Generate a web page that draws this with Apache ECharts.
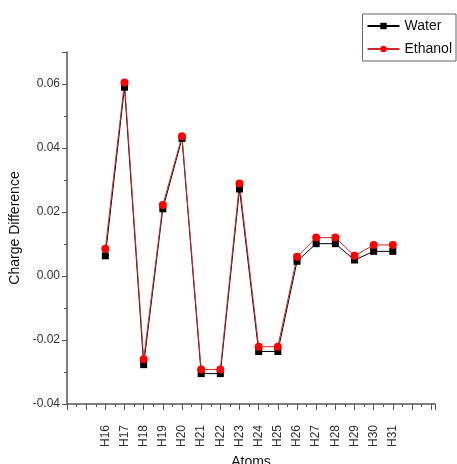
<!DOCTYPE html>
<html>
<head>
<meta charset="utf-8">
<script src="https://cdn.jsdelivr.net/npm/echarts@6/dist/echarts.min.js"></script>
<style>
  html, body { margin: 0; padding: 0; background: #fff; }
  #chart { width: 457px; height: 464px; }
</style>
</head>
<body>
<div id="chart"></div>
<script>
// atoms along the x axis
const categories = ['H16','H17','H18','H19','H20','H21','H22','H23','H24','H25','H26','H27','H28','H29','H30','H31'];
// charge difference
const water   = [0.0063, 0.0590, -0.0277, 0.0210, 0.0430, -0.0305, -0.0305, 0.0272, -0.0236, -0.0236, 0.0046, 0.0101, 0.0101, 0.0050, 0.0077, 0.0077];
const ethanol = [0.0085, 0.0605, -0.0260, 0.0222, 0.0437, -0.0292, -0.0292, 0.0289, -0.0221, -0.0221, 0.0060, 0.0120, 0.0120, 0.0063, 0.0097, 0.0097];

const axisColor = '#555';
const font = "'Liberation Sans', Arial, sans-serif";

const chart = echarts.init(document.getElementById('chart'));
chart.setOption({
  animation: false,
  backgroundColor: '#fff',
  textStyle: { fontFamily: font },
  grid: { left: 67, top: 52, right: 22, bottom: 60, outerBoundsMode: 'none', containLabel: false },
  legend: {
    orient: 'vertical',
    right: 1,
    top: 14,
    itemWidth: 32,
    itemHeight: 8,
    itemGap: 9,
    padding: [5, 4, 5, 4],
    borderColor: '#666',
    borderWidth: 1,
    textStyle: { fontSize: 14, color: '#111', fontFamily: font },
    data: ['Water', 'Ethanol']
  },
  xAxis: {
    type: 'value',
    min: -2,
    max: 17.2,
    interval: 1,
    name: 'Atoms',
    nameLocation: 'middle',
    nameGap: 50,
    nameTextStyle: { fontSize: 14, color: '#111' },
    splitLine: { show: false },
    axisLine: { onZero: false, lineStyle: { color: axisColor, width: 1.5 } },
    axisTick: { length: 6, lineStyle: { color: axisColor } },
    minorTick: { show: true, splitNumber: 2, length: 3, lineStyle: { color: axisColor } },
    axisLabel: {
      rotate: 90,
      margin: 21,
      fontSize: 12,
      color: '#333',
      showMaxLabel: false,
      formatter: v => (Number.isInteger(v) && v >= 0 && v < categories.length) ? categories[v] : ''
    }
  },
  yAxis: {
    type: 'value',
    min: -0.04,
    max: 0.07,
    interval: 0.02,
    name: 'Charge Difference',
    nameLocation: 'middle',
    nameGap: 39,
    nameTextStyle: { fontSize: 14, color: '#111' },
    splitLine: { show: false },
    axisLine: { show: true, onZero: false, lineStyle: { color: axisColor, width: 1.5 } },
    axisTick: { length: 5, lineStyle: { color: axisColor } },
    minorTick: { show: true, splitNumber: 2, length: 3, lineStyle: { color: axisColor } },
    axisLabel: {
      fontSize: 12,
      color: '#333',
      margin: 7,
      showMaxLabel: false,
      formatter: v => v.toFixed(2)
    }
  },
  series: [
    {
      name: 'Water',
      type: 'line',
      symbol: 'rect',
      symbolSize: 7,
      itemStyle: { color: '#000' },
      lineStyle: { color: '#000', width: 1 },
      data: water.map((v, i) => [i, v])
    },
    {
      name: 'Ethanol',
      type: 'line',
      symbol: 'circle',
      symbolSize: 8,
      itemStyle: { color: '#f00' },
      lineStyle: { color: '#d02828', width: 1 },
      data: ethanol.map((v, i) => [i, v])
    }
  ]
});
</script>
</body>
</html>
